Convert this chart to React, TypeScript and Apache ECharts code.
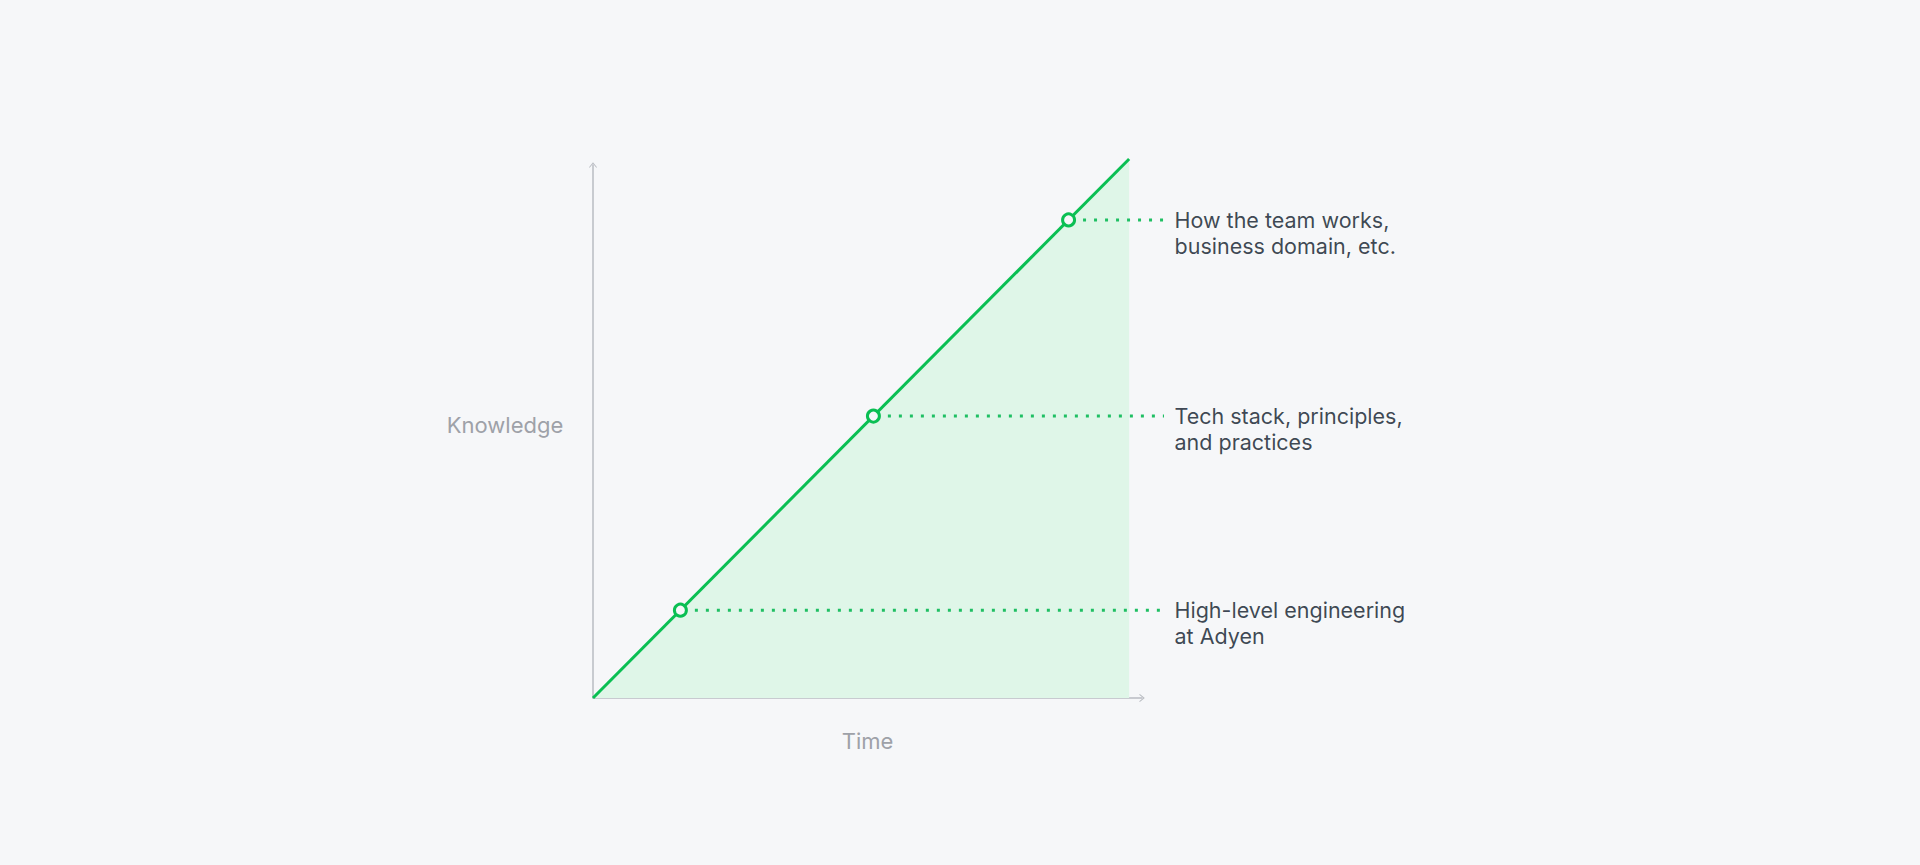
import { useRef, useEffect } from "react"
import * as echarts from "echarts"

// milestones along the learning curve (x = time, y = knowledge)
const milestoneValues = [16.3, 52.3, 88.7]
const milestoneLabels = [
  "High-level engineering\nat Adyen",
  "Tech stack, principles,\nand practices",
  "How the team works,\nbusiness domain, etc.",
]
const curveX = [0, 100]
const curveY = [0, 100]
const leaderGap = 2.7
const leaderEndX = 106.5

const GREEN = "#0abf53"
const BG = "#f6f7f9"
const AXIS = "#b9bcc2"

const arrowPath = "path://M5 0 L10 6.2 L9.2 7 L5 2 L0.8 7 L0 6.2 Z"

export default function App() {
  const chartRef = useRef<HTMLDivElement>(null)

  useEffect(() => {
    if (!chartRef.current) return
    const instance = echarts.init(chartRef.current, null, { renderer: "svg" })

    const hiddenAxis = {
      type: "value" as const,
      min: 0,
      gridIndex: 0,
      axisLine: { show: false },
      axisTick: { show: false },
      axisLabel: { show: false },
      splitLine: { show: false },
    }
    const shownAxis = {
      type: "value" as const,
      min: 0,
      max: 100,
      gridIndex: 1,
      nameLocation: "middle" as const,
      nameRotate: 0,
      axisLine: {
        show: true,
        symbol: ["none", arrowPath],
        symbolSize: [8, 6],
        lineStyle: { color: AXIS, width: 1.5 },
      },
      axisTick: { show: false },
      axisLabel: { show: false },
      splitLine: { show: false },
    }
    const nameStyle = {
      color: "#9ea1a8",
      fontSize: 22,
      fontFamily: "Inter",
      align: "center",
    }

    const leaders = milestoneValues.map((v) => ({
      type: "line" as const,
      data: [
        [v + leaderGap, v],
        [leaderEndX, v],
      ],
      clip: false,
      symbol: "none",
      z: 4,
      lineStyle: { color: "#1fbf63", width: 3, type: [3, 8], cap: "butt" },
    }))

    instance.setOption({
      animation: false,
      backgroundColor: BG,
      grid: [
        // data grid: reaches the end of the leader lines
        { left: 593, top: 159, width: 571, height: 539, containLabel: false },
        // axis grid: only carries the arrowed axes
        { left: 593, top: 165, width: 549, height: 533, containLabel: false },
      ],
      xAxis: [
        { ...hiddenAxis, max: leaderEndX },
        {
          ...shownAxis,
          name: "Time",
          nameGap: 43,
          nameTextStyle: { ...nameStyle, verticalAlign: "middle" },
        },
      ],
      yAxis: [
        { ...hiddenAxis, max: 100 },
        {
          ...shownAxis,
          name: "Knowledge",
          nameGap: 88,
          nameTextStyle: { ...nameStyle, verticalAlign: "bottom", lineHeight: 13 },
        },
      ],
      series: [
        {
          type: "line",
          data: curveX.map((x, i) => [x, curveY[i]]),
          clip: false,
          symbol: "none",
          z: 3,
          lineStyle: { color: GREEN, width: 3 },
          areaStyle: { color: "#dff6e8", opacity: 1 },
        },
        ...leaders,
        {
          type: "scatter",
          data: milestoneValues.map((v) => [v, v]),
          symbol: "circle",
          symbolSize: 12,
          clip: false,
          z: 5,
          itemStyle: { color: BG, borderColor: GREEN, borderWidth: 3, opacity: 1 },
        },
        {
          type: "scatter",
          data: milestoneValues.map((v, i) => ({
            value: [leaderEndX, v],
            label: { formatter: milestoneLabels[i] },
          })),
          symbolSize: 1,
          clip: false,
          z: 6,
          itemStyle: { color: "rgba(0,0,0,0)" },
          label: {
            show: true,
            position: "right",
            distance: 10,
            offset: [0, 13],
            color: "#0c1728",
            fontSize: 21.5,
            lineHeight: 26,
            fontFamily: "Inter",
            align: "left",
          },
        },
      ],
    })

    return () => instance.dispose()
  }, [])

  return (
    <div
      ref={chartRef}
      style={{ position: "fixed", left: 0, top: 0, width: "100vw", height: "100vh" }}
    />
  )
}
